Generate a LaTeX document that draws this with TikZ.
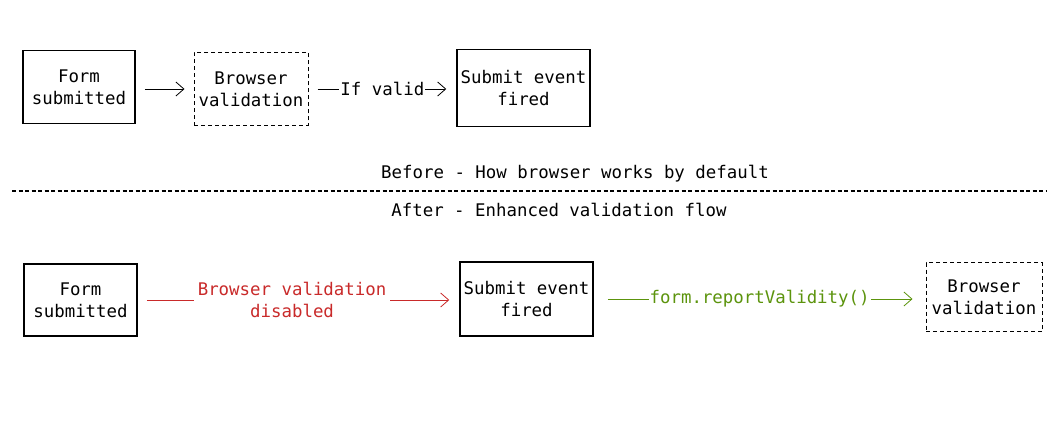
\documentclass[tikz,border=0pt]{standalone}
\usepackage{fontspec}
\newfontfamily\mono{DejaVu Sans Mono}
\usetikzlibrary{arrows.meta}
\definecolor{redc}{HTML}{C92A2A}
\definecolor{greenc}{HTML}{5C940D}
\tikzset{
  box/.style={draw=black, line width=1.5pt, rectangle, align=center, inner sep=0pt, font=\mono\fontsize{17.4}{22}\selectfont},
  dbox/.style={box, line width=1pt, dash pattern=on 4pt off 3pt},
  arr/.style={line width=0.8pt, -{Straight Barb[length=8pt,width=14pt,line width=0.8pt]}},
  lbl/.style={fill=white, inner xsep=1pt, inner ysep=1pt, align=center, font=\mono\fontsize{17.4}{22}\selectfont},
  plain/.style={align=center, inner sep=0pt, font=\mono\fontsize{17.4}{22}\selectfont}
}
\begin{document}
\begin{tikzpicture}[x=1pt,y=-1pt]
\useasboundingbox (0,0) rectangle (1063,425);
% top row
\node[box, minimum width=112pt, minimum height=73pt] (f1) at (79,87) {Form\\submitted};
\node[dbox, minimum width=114pt, minimum height=73pt] (b1) at (251,89) {Browser\\validation};
\node[box, minimum width=133pt, minimum height=77pt] (s1) at (523.5,88) {Submit event\\fired};
\draw[arr, shorten <=9pt, shorten >=9pt] (f1.east |- b1.west) -- (b1.west);
\draw[arr, shorten <=9pt, shorten >=10pt] (b1.east) -- node[lbl] (l1) {If valid} (s1.west |- b1.east);
% divider
\node[plain] (t1) at (575,174) {Before - How browser works by default};
\coordinate (dl) at (12,191);
\coordinate (dr) at (1047,191);
\draw[line width=2pt, dash pattern=on 4pt off 2.5pt] (dl) -- (dr);
\node[plain] (t2) at (559,210) {After - Enhanced validation flow};
% bottom row
\node[box, minimum width=113pt, minimum height=72pt] (f2) at (80.5,300) {Form\\submitted};
\node[box, minimum width=133pt, minimum height=74pt] (s2) at (526.5,299) {Submit event\\fired};
\node[dbox, minimum width=116pt, minimum height=69pt] (b2) at (984,297) {Browser\\validation};
\draw[arr, draw=redc, shorten <=9pt, shorten >=10pt] (f2.east) -- node[lbl, text=redc, pos=0.48, inner xsep=4pt] (l2) {Browser validation\\disabled} (s2.west |- f2.east);
\draw[arr, draw=greenc, shorten <=14pt, shorten >=13pt] (s2.east) -- node[lbl, text=greenc] (l3) {form.reportValidity()} (b2.west |- s2.east);
\end{tikzpicture}
\end{document}
